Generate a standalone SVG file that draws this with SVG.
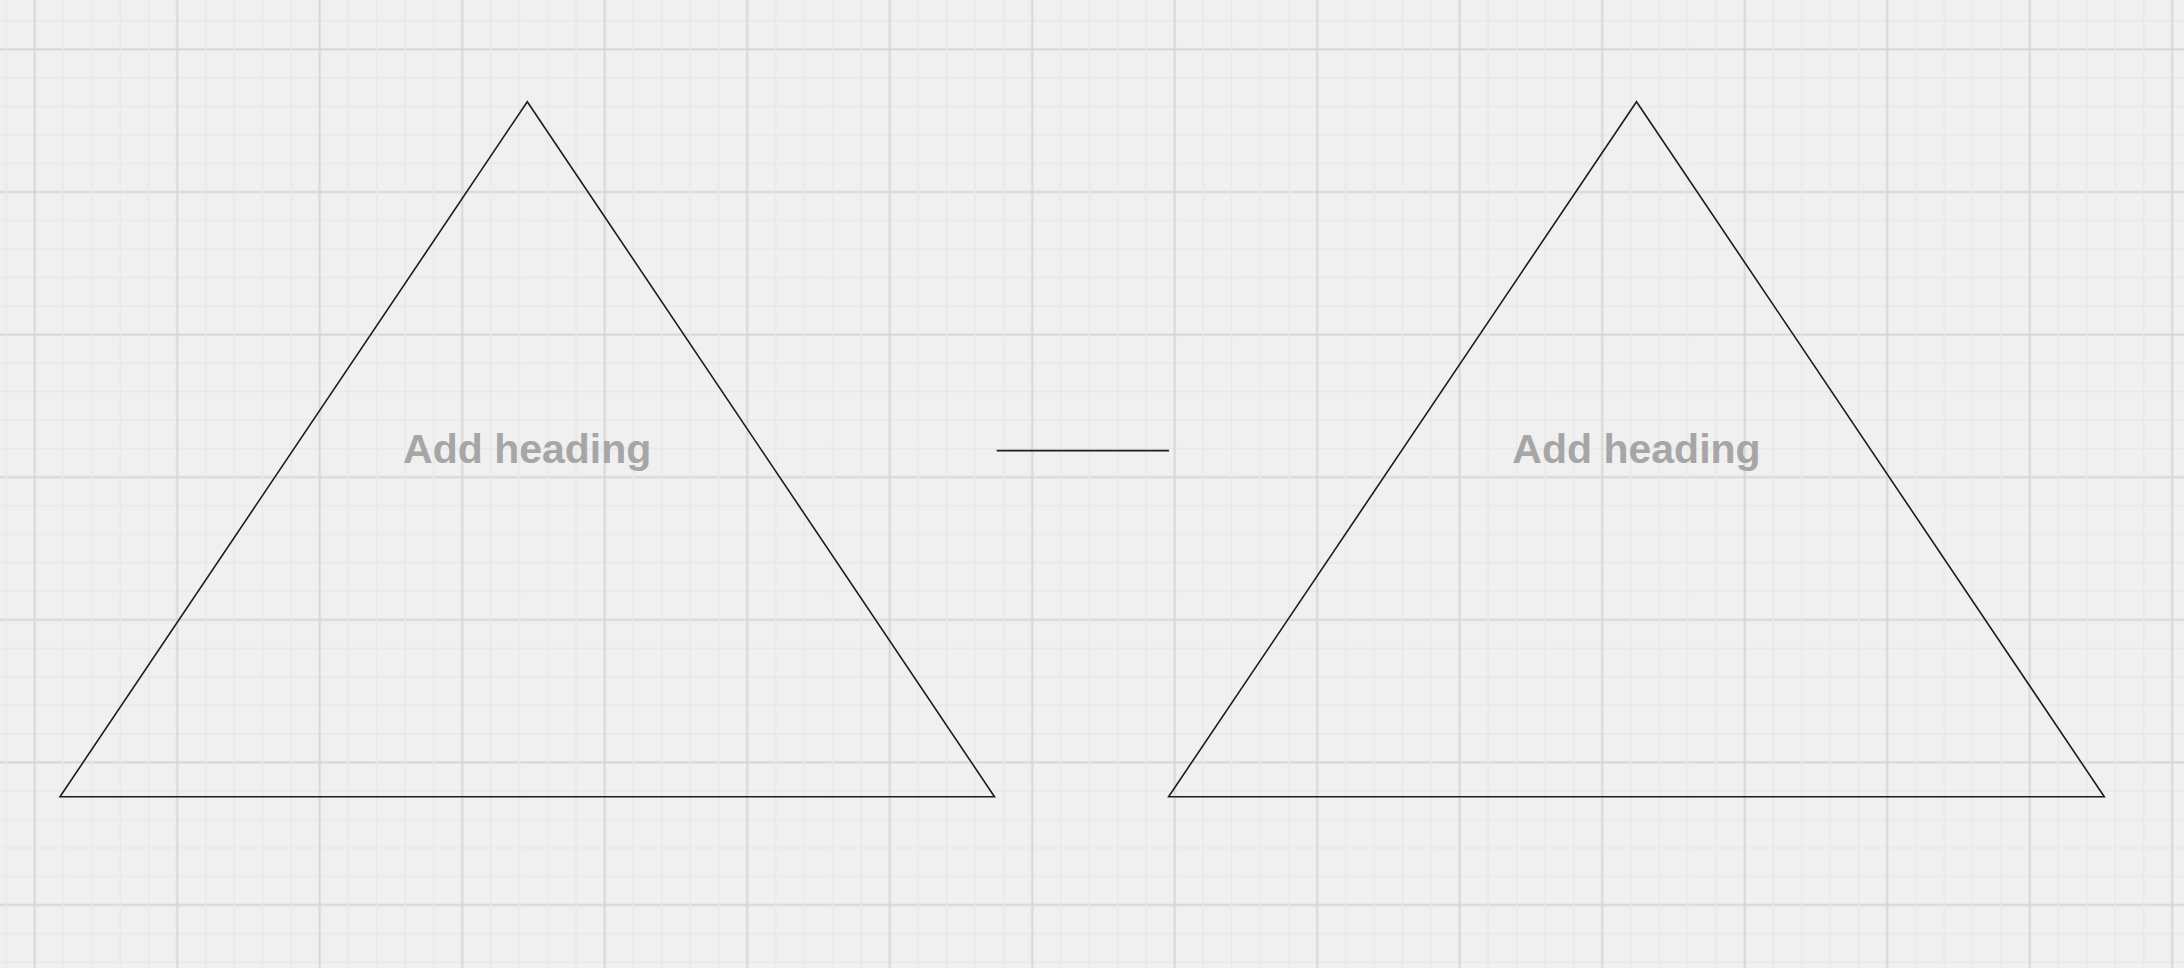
<svg xmlns="http://www.w3.org/2000/svg" width="2184" height="968" viewBox="0 0 2184 968">
  <style>
    .tri { fill: none; stroke: #1c1c1c; stroke-width: 1.6; stroke-linejoin: miter; }
    .lbl { font-family: "Liberation Sans", Arial, sans-serif; font-weight: bold; font-size: 41px; fill: #a6a6a6; text-anchor: middle; }
    .conn { stroke: #1c1c1c; stroke-width: 1.8; fill: none; }
    .minor { fill: #e8e8e8; }
    .major { fill: #d6d6d6; }
  </style>
  <defs>
    <pattern id="ph" patternUnits="userSpaceOnUse" x="0" y="-21.9" width="200" height="142.6">
      <rect class="minor" x="0" y="13.5" width="200" height="1.5"/>
      <rect class="minor" x="0" y="42" width="200" height="1.5"/>
      <rect class="minor" x="0" y="99.1" width="200" height="1.5"/>
      <rect class="minor" x="0" y="127.6" width="200" height="1.5"/>
      <rect class="major" x="0" y="70.3" width="200" height="2"/>
    </pattern>
    <pattern id="pv" patternUnits="userSpaceOnUse" x="-36.55" y="0" width="142.5" height="200">
      <rect class="minor" x="13.5" y="0" width="1.5" height="200"/>
      <rect class="minor" x="42" y="0" width="1.5" height="200"/>
      <rect class="minor" x="99" y="0" width="1.5" height="200"/>
      <rect class="minor" x="127.5" y="0" width="1.5" height="200"/>
      <rect class="major" x="70.25" y="0" width="2" height="200"/>
    </pattern>
  </defs>
  <g id="background">
    <rect x="0" y="0" width="2184" height="968" fill="#f0f0f0"/>
    <rect x="0" y="0" width="2184" height="968" fill="url(#ph)"/>
    <rect x="0" y="0" width="2184" height="968" fill="url(#pv)"/>
  </g>
  <g id="connectors">
    <line class="conn" x1="996.7" y1="450.7" x2="1169" y2="450.7"/>
  </g>
  <g id="node-left">
    <polygon class="tri" points="60,796.7 527.3,101.7 994.5,796.7"/>
    <text class="lbl" x="527.2" y="462.7">Add heading</text>
  </g>
  <g id="node-right">
    <polygon class="tri" points="1168.6,796.7 1636.5,101.7 2104.3,796.7"/>
    <text class="lbl" x="1636.5" y="462.7">Add heading</text>
  </g>
</svg>
